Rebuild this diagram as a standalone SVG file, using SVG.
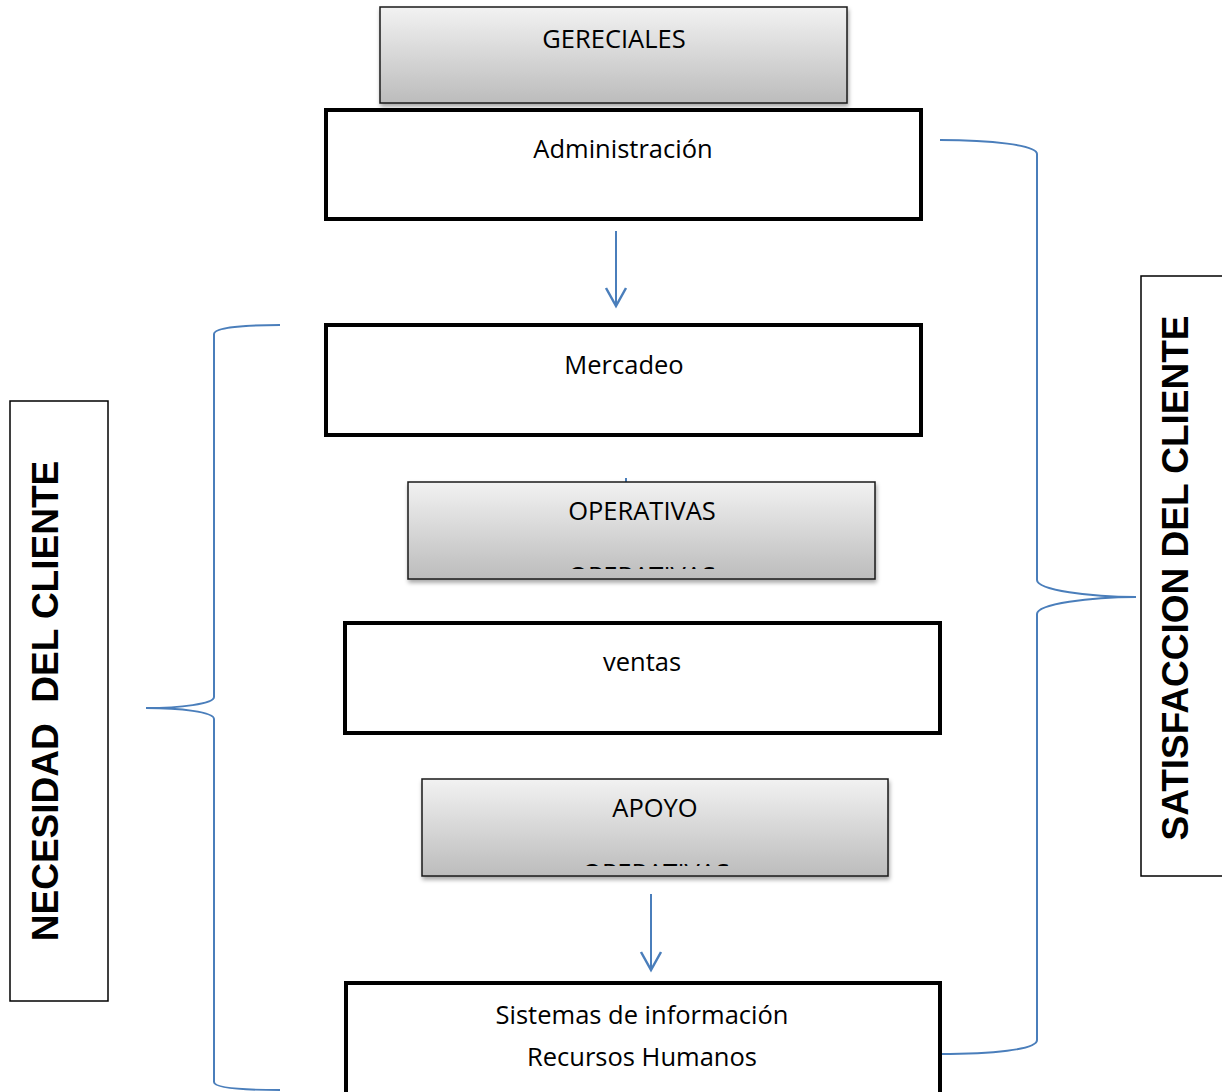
<svg xmlns="http://www.w3.org/2000/svg" width="1222" height="1092" viewBox="0 0 1222 1092">
<style>
.box{fill:#fff;stroke:#000;stroke-width:4}
.gbox{fill:url(#gg);stroke:#1a1a1a;stroke-width:1.5;filter:url(#sh)}
.lbl{font-family:"Open Sans","Liberation Sans",sans-serif;font-size:25.5px;fill:#000;text-anchor:middle}
.side{font-family:"Liberation Sans",Arial,sans-serif;font-weight:bold;font-size:37px;fill:#000;text-anchor:middle}
.sbox{fill:#fff;stroke:#000;stroke-width:1.5}
.con{fill:none;stroke:#4a7ebb;stroke-width:2}
</style>
<defs>
<linearGradient id="gg" x1="0" y1="0" x2="0" y2="1">
<stop offset="0" stop-color="#f2f2f2"/>
<stop offset="1" stop-color="#bcbcbc"/>
</linearGradient>
<filter id="sh" x="-5%" y="-10%" width="110%" height="130%">
<feDropShadow dx="1" dy="3" stdDeviation="2" flood-color="#000" flood-opacity="0.35"/>
</filter>
<marker id="ah" viewBox="0 0 24 24" refX="21" refY="12" markerWidth="24" markerHeight="24" markerUnits="userSpaceOnUse" orient="auto">
<path d="M3,2 L21,12 L3,22" fill="none" stroke="#4a7ebb" stroke-width="2.5"/>
</marker>
<clipPath id="c1"><rect x="400" y="565" width="480" height="4"/></clipPath>
<clipPath id="c2"><rect x="400" y="862" width="500" height="4"/></clipPath>
</defs>
<g id="connectors">
<line class="con" x1="616" y1="231" x2="616" y2="306" stroke-width="2.5" marker-end="url(#ah)"/>
<line class="con" x1="651" y1="894" x2="651" y2="970" stroke-width="2.5" marker-end="url(#ah)"/>
<line x1="626" y1="478" x2="626" y2="484" stroke="#4a7ebb" stroke-width="2"/>
<path class="con" d="M280,325 C240,325 214,328 214,334 L214,697 C214,704 180,708 146,708 C180,708 214,712 214,719 L214,1082 C214,1088 240,1090 280,1090"/>
<path class="con" d="M940,140 C990,140 1037,145 1037,154 L1037,580 C1037,590 1090,597 1136,597 C1090,597 1037,604 1037,614 L1037,1040 C1037,1050 990,1054 940,1054"/>
</g>
<g id="gereciales">
<rect class="gbox" x="380" y="7" width="467" height="96"/>
<text class="lbl" x="614" y="48">GERECIALES</text>
</g>
<g id="administracion">
<rect class="box" x="326" y="110" width="595" height="109"/>
<text class="lbl" x="623" y="158">Administración</text>
</g>
<g id="mercadeo">
<rect class="box" x="326" y="325" width="595" height="110"/>
<text class="lbl" x="624" y="374">Mercadeo</text>
</g>
<g id="operativas">
<rect class="gbox" x="408" y="482" width="467" height="97"/>
<text class="lbl" x="642" y="520">OPERATIVAS</text>
<text class="lbl" x="642" y="585" clip-path="url(#c1)">OPERATIVAS</text>
</g>
<g id="ventas">
<rect class="box" x="345" y="623" width="595" height="110"/>
<text class="lbl" x="642" y="671">ventas</text>
</g>
<g id="apoyo">
<rect class="gbox" x="422" y="779" width="466" height="97"/>
<text class="lbl" x="655" y="817">APOYO</text>
<text class="lbl" x="656" y="882" clip-path="url(#c2)">OPERATIVAS</text>
</g>
<g id="sistemas">
<rect class="box" x="346" y="983" width="594" height="112"/>
<text class="lbl" x="642" y="1024">Sistemas de información</text>
<text class="lbl" x="642" y="1066">Recursos Humanos</text>
</g>
<g id="necesidad">
<rect class="sbox" x="10" y="401" width="98" height="600"/>
<text class="side" transform="translate(58,701) rotate(-90)" xml:space="preserve">NECESIDAD  DEL CLIENTE</text>
</g>
<g id="satisfaccion">
<rect class="sbox" x="1141" y="276" width="90" height="600"/>
<text class="side" transform="translate(1188,578) rotate(-90)">SATISFACCION DEL CLIENTE</text>
</g>
</svg>
